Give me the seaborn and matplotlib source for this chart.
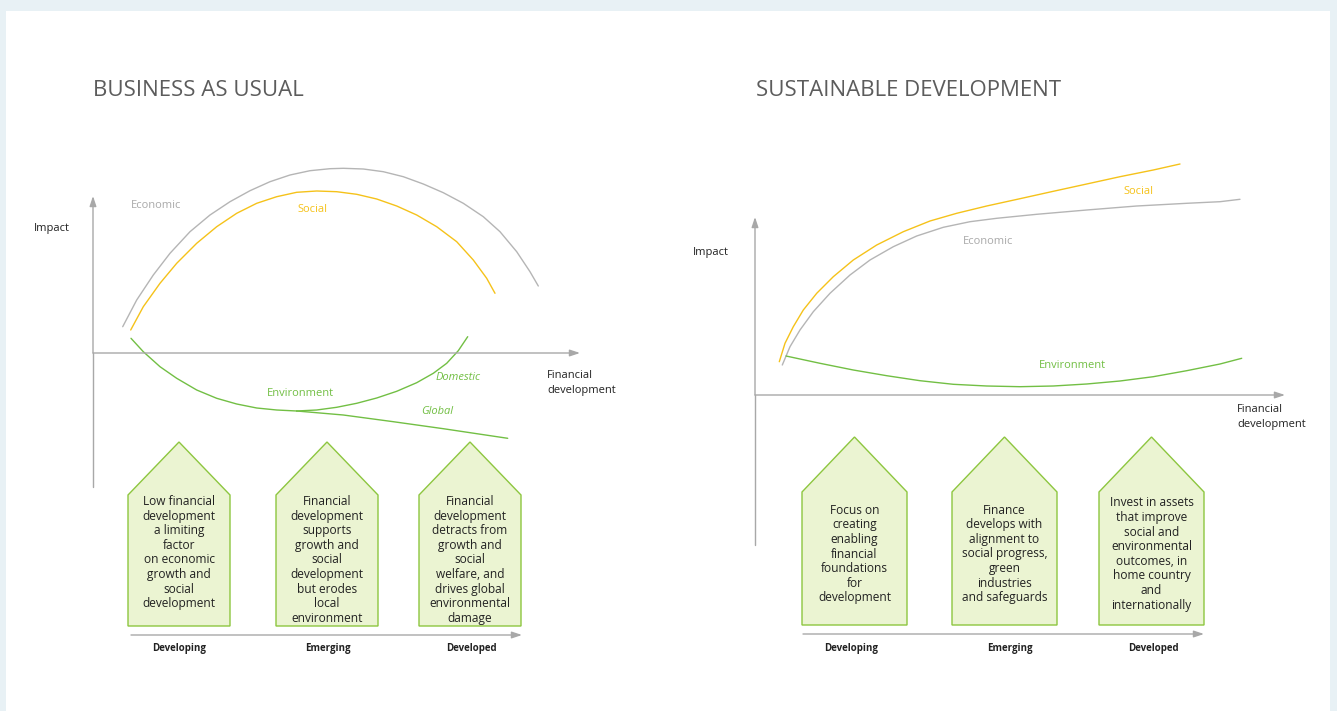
import numpy as np
import matplotlib
matplotlib.use("Agg")
import matplotlib.pyplot as plt
from matplotlib.patches import Polygon, Rectangle
import seaborn as sns

sns.set_style("white")
plt.rcParams['font.family'] = ['Open Sans', 'DejaVu Sans']

# ---- data (in picture units) ----
# Business as usual
bau_econ_x = [122.7, 136.7, 153.3, 170, 190, 210, 230, 250, 270, 290, 310, 330, 343.3,
              363.3, 383.3, 403.3, 423.3, 443.3, 463.3, 483.3, 500, 516.7, 530, 538.3]
bau_econ_y = [326.7, 300, 275, 253.3, 231.7, 215, 201.7, 190.7, 181.7, 175, 170.7, 168.7,
              168.3, 169, 171.7, 176.7, 184, 192.7, 203.3, 216.7, 231.7, 251.7, 271.7, 286]
bau_social_x = [130.7, 143.3, 160, 176.7, 196.7, 216.7, 236.7, 256.7, 276.7, 296.7, 316.7,
                336.7, 356.7, 376.7, 396.7, 416.7, 436.7, 456.7, 473.3, 486.7, 495]
bau_social_y = [330, 306.7, 283.3, 263.3, 243.3, 226.7, 213.3, 203.3, 196.7, 192.3, 191,
                191.7, 194.3, 199, 206, 215, 226.7, 241.7, 260, 278.3, 293.3]
bau_env_x = [131, 143.3, 160, 176.7, 196.7, 216.7, 236.7, 256.7, 276.7, 296.7]
bau_env_y = [338.3, 351.7, 366.7, 378.3, 390, 398.3, 404, 408, 410, 411]
bau_domestic_x = [296.7, 316.7, 336.7, 356.7, 376.7, 396.7, 416.7, 433.3, 446.7, 458.3, 467.7]
bau_domestic_y = [411, 410, 407.3, 403.3, 398, 391.3, 382.7, 373.3, 363.3, 350.7, 336.7]
bau_global_x = [296.7, 343.3, 393.3, 443.3, 507.7]
bau_global_y = [411, 415, 421.7, 428.7, 438.3]

# Sustainable development
sd_social_x = [779.3, 785, 793.3, 803.3, 816.7, 833.3, 853.3, 876.7, 903.3, 930, 956.7,
               986.7, 1020, 1053.3, 1086.7, 1120, 1153.3, 1180]
sd_social_y = [361.7, 343.3, 326.7, 310, 293.3, 276.7, 260, 245, 231.7, 221, 213.3,
               206, 198.7, 191.3, 184, 176.7, 170, 164]
sd_econ_x = [782.3, 790, 800, 813.3, 830, 850, 870, 893.3, 916.7, 943.3, 970, 996.7,
             1036.7, 1086.7, 1136.7, 1186.7, 1220, 1240]
sd_econ_y = [365, 346.7, 330, 311.7, 293.3, 275, 260, 246.7, 236, 227.3, 221.7, 218.3,
             214.3, 210, 206, 203.3, 201.7, 199.3]
sd_env_x = [786, 820, 853.3, 886.7, 920, 953.3, 986.7, 1020, 1053.3, 1086.7, 1120, 1153.3,
            1186.7, 1220, 1241.7]
sd_env_y = [356, 363.3, 370, 375.7, 380.7, 384.3, 386, 386.7, 386, 384, 381, 376.7,
            370.7, 364, 358.3]

stages = ["Developing", "Emerging", "Developed"]
bau_box_text = [
    "Low financial\ndevelopment\na limiting\nfactor\non economic\ngrowth and\nsocial\ndevelopment",
    "Financial\ndevelopment\nsupports\ngrowth and\nsocial\ndevelopment\nbut erodes\nlocal\nenvironment",
    "Financial\ndevelopment\ndetracts from\ngrowth and\nsocial\nwelfare, and\ndrives global\nenvironmental\ndamage",
]
sd_box_text = [
    "Focus on\ncreating\nenabling\nfinancial\nfoundations\nfor\ndevelopment",
    "Finance\ndevelops with\nalignment to\nsocial progress,\ngreen\nindustries\nand safeguards",
    "Invest in assets\nthat improve\nsocial and\nenvironmental\noutcomes, in\nhome country\nand\ninternationally",
]

GREY = "#b5b5b5"
YELLOW = "#f5c21a"
GREEN = "#72bf44"
AXIS = "#a8a8a8"
BOX_FILL = "#ebf4d2"
BOX_EDGE = "#8dc63f"
TEXT = "#222222"

fig = plt.figure(figsize=(13.37, 7.11), dpi=100, facecolor="#e8f1f5")
ax = fig.add_axes([0, 0, 1, 1])
ax.add_patch(Rectangle((6, 11), 1324, 710, facecolor="white", edgecolor="none", zorder=0))


def arrow(x0, y0, x1, y1):
    ax.annotate("", xy=(x1, y1), xytext=(x0, y0),
                arrowprops=dict(arrowstyle="-|>,head_length=0.6,head_width=0.2",
                                color=AXIS, lw=1, shrinkA=0, shrinkB=0))


def panel(title, tx, ox, oy, ytop, ybot, xend, imp, fin, lefts, w, peak, shoulder, bottom,
          texts, text_y, text_va, tl_y, tl_x0, tl_x1, centers):
    ax.text(tx, 90, title, fontsize=16, color="#5c5c5c", va="center", ha="left")
    ax.plot([ox, ox], [oy, ybot], color=AXIS, lw=1)
    arrow(ox, oy, ox, ytop)
    arrow(ox, oy, xend, oy)
    ax.text(imp[0], imp[1], "Impact", fontsize=8, color=TEXT, va="center")
    ax.text(fin[0], fin[1], "Financial\ndevelopment", fontsize=8, color=TEXT, va="top",
            linespacing=1.45)
    for left, txt in zip(lefts, texts):
        pts = [(left, bottom), (left, shoulder), (left + w / 2, peak), (left + w, shoulder),
               (left + w, bottom)]
        ax.add_patch(Polygon(pts, closed=True, facecolor=BOX_FILL, edgecolor=BOX_EDGE, lw=1))
        ax.text(left + w / 2, text_y, txt, ha="center", va=text_va, fontsize=8.6,
                color=TEXT, linespacing=1.16)
    arrow(tl_x0, tl_y, tl_x1, tl_y)
    for c, s in zip(centers, stages):
        ax.text(c, 648, s, ha="center", va="center", fontsize=7, weight="bold", color=TEXT)


panel("BUSINESS AS USUAL", 93, 93, 353, 196, 487, 580, (34, 228), (547, 370),
      [128, 276, 419], 102, 442, 495, 626, bau_box_text, 495, "top", 635, 131, 522,
      [179, 328, 471])
panel("SUSTAINABLE DEVELOPMENT", 756, 755, 395, 217, 545, 1285, (693, 252), (1237, 404),
      [802, 952, 1099], 105, 437, 492, 625, sd_box_text, 554, "center", 634, 803, 1204,
      [851, 1010, 1153])

# curves
for xs, ys, col in [(bau_econ_x, bau_econ_y, GREY), (bau_social_x, bau_social_y, YELLOW),
                    (bau_env_x, bau_env_y, GREEN), (bau_domestic_x, bau_domestic_y, GREEN),
                    (bau_global_x, bau_global_y, GREEN),
                    (sd_social_x, sd_social_y, YELLOW), (sd_econ_x, sd_econ_y, GREY),
                    (sd_env_x, sd_env_y, GREEN)]:
    sns.lineplot(x=xs, y=ys, ax=ax, color=col, lw=1, sort=False, estimator=None)

ax.set_xlim(0, 1337)
ax.set_ylim(711, 0)
ax.axis("off")

# curve labels
ax.text(131, 205, "Economic", fontsize=8, color="#a9a9a9", va="center")
ax.text(297, 210, "Social", fontsize=8, color=YELLOW, va="center")
ax.text(267, 394, "Environment", fontsize=8, color=GREEN, va="center")
ax.text(436, 377, "Domestic", fontsize=8, color=GREEN, va="center", style="italic")
ax.text(421, 412, "Global", fontsize=8, color=GREEN, va="center", style="italic")
ax.text(963, 241, "Economic", fontsize=8, color="#a9a9a9", va="center")
ax.text(1123, 192, "Social", fontsize=8, color=YELLOW, va="center")
ax.text(1039, 366, "Environment", fontsize=8, color=GREEN, va="center")

fig.savefig("out.png", dpi=100, facecolor=fig.get_facecolor())
